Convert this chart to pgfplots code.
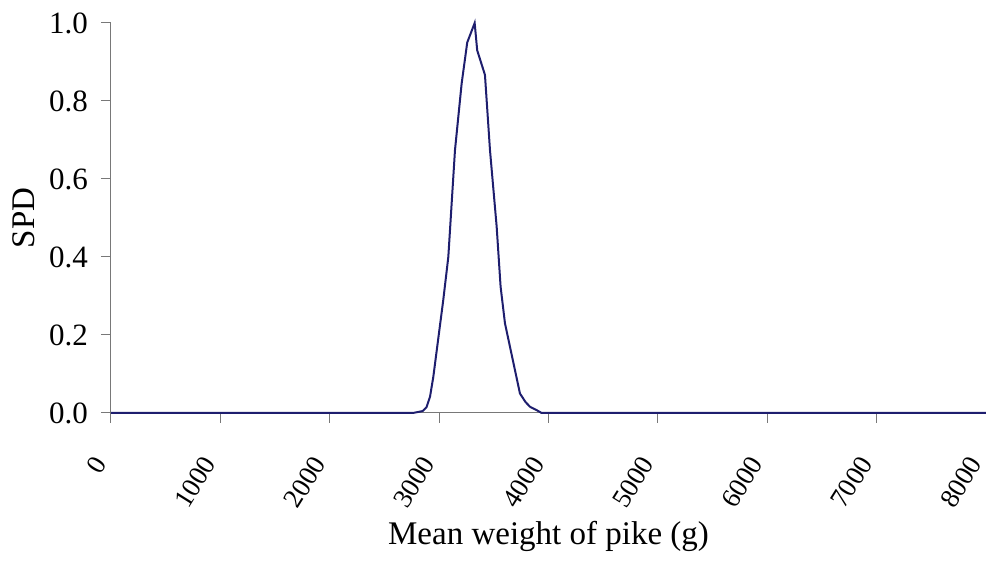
\documentclass[border=0pt]{standalone}
\usepackage{fontspec}
\setmainfont{Liberation Serif}
\usepackage{pgfplots}
\pgfplotsset{compat=1.18}
\definecolor{curve}{RGB}{30,30,110}
\definecolor{axisgray}{RGB}{120,120,120}
\begin{document}
\begin{tikzpicture}
\path[use as bounding box] (-55.5pt,-74pt) rectangle (437.5pt,206.5pt);
\begin{axis}[
  scale only axis,
  width=437.5pt, height=195pt,
  xmin=0, xmax=8000, ymin=0, ymax=1,
  axis lines=left,
  axis line style={axisgray, line width=0.5pt, -},
  xtick={0,1000,...,8000},
  ytick={0,0.2,...,1.0},
  tick style={axisgray, line width=0.5pt},
  tick align=outside,
  major tick length=5pt,
  /pgf/number format/assume math mode=true,
  every tick label/.append style={text=black},
  yticklabel={\pgfmathprintnumber[fixed, fixed zerofill, precision=1]{\tick}},
  xticklabel={\pgfmathprintnumber[fixed, 1000 sep={}]{\tick}},
  yticklabel style={font=\fontsize{15.5}{18}\selectfont, xshift=-3pt},
  xticklabel style={font=\fontsize{13.5}{16}\selectfont,
    shift={(-3.5pt,-15pt)}, rotate=58, anchor=east},
  xlabel={Mean weight of pike (g)},
  ylabel={SPD},
  label style={font=\fontsize{16.5}{18}\selectfont},
  xlabel style={at={([yshift=-66pt]axis description cs:0.5,0)}, anchor=base},
  ylabel style={at={([xshift=-38pt]axis description cs:0,0.5)}, anchor=base, rotate=0},
  clip=false,
]
\addplot[curve, line width=1pt] coordinates {
  (0,0) (2760,0) (2850,0.005) (2885,0.015) (2917,0.042) (2947,0.093)
  (3038,0.29) (3084,0.40) (3145,0.674) (3206,0.845) (3257,0.95)
  (3325,1.0) (3348,0.93) (3419,0.867) (3465,0.674) (3526,0.478)
  (3562,0.324) (3602,0.23) (3739,0.05) (3790,0.028) (3831,0.016)
  (3900,0.006) (3937,0) (8000,0)
};
\end{axis}
\end{tikzpicture}
\end{document}
